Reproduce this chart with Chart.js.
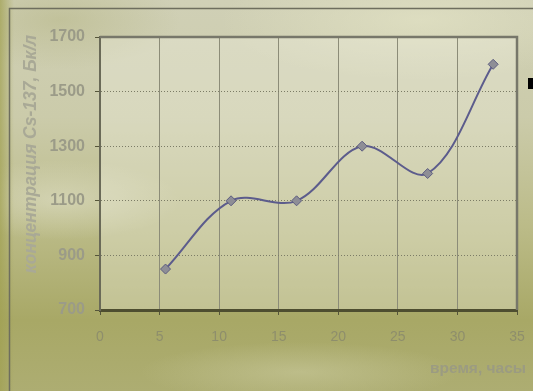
<!DOCTYPE html>
<html>
<head>
<meta charset="utf-8">
<script src="https://cdn.jsdelivr.net/npm/chart.js@4.4.1/dist/chart.umd.min.js"></script>
<style>
html, body { margin:0; padding:0; }
body {
  width:533px; height:391px; overflow:hidden;
  background:
    linear-gradient(90deg, rgba(160,160,80,0.7) 0px, rgba(160,160,80,0) 14px),
    radial-gradient(ellipse 120px 40px at 60px 200px, rgba(230,230,210,0.5), rgba(230,230,210,0)),
    radial-gradient(ellipse 160px 30px at 300px 372px, rgba(210,210,170,0.45), rgba(210,210,170,0)),
    radial-gradient(ellipse 200px 60px at 420px 20px, rgba(230,230,200,0.6), rgba(230,230,200,0)),
    radial-gradient(ellipse 120px 50px at 60px 20px, rgba(180,180,130,0.5), rgba(180,180,130,0)),
    linear-gradient(180deg, #d0d0b6 0%, #cbcbaa 30%, #bbbb88 58%, #a8a866 82%, #adad72 100%);
}
#wrap { position:absolute; left:0; top:0; width:533px; height:391px; }
</style>
</head>
<body>
<div id="wrap"><canvas id="c" width="533" height="391"></canvas></div>
<script>
// data
var hours = [5.5, 11, 16.5, 22, 27.5, 33];
var concentration = [850, 1100, 1100, 1300, 1200, 1600];
var xTicks = [0, 5, 10, 15, 20, 25, 30, 35];
var yTicks = [700, 900, 1100, 1300, 1500, 1700];
var xTitle = 'время, часы';
var yTitle = 'концентрация Cs-137, Бк/л';

var pts = [];
for (var i = 0; i < hours.length; i++) pts.push({x: hours[i], y: concentration[i]});

// plot area fill, frame, axis titles
var decor = {
  id: 'decor',
  beforeDraw: function(chart) {
    var ctx = chart.ctx, a = chart.chartArea;
    ctx.save();
    ctx.fillStyle = 'rgba(240,240,225,0.35)';
    ctx.fillRect(a.left, a.top, a.right - a.left, a.bottom - a.top);
    // outer frame
    ctx.strokeStyle = '#6e6e5e';
    ctx.lineWidth = 1.5;
    ctx.beginPath();
    ctx.moveTo(533, 8.5); ctx.lineTo(9.5, 8.5); ctx.lineTo(9.5, 391);
    ctx.stroke();
    ctx.restore();
  },
  afterDatasetsDraw: function(chart) {
    var ctx = chart.ctx, a = chart.chartArea;
    ctx.save();
    ctx.strokeStyle = '#77776a';
    ctx.lineWidth = 2.5;
    ctx.beginPath();
    ctx.moveTo(a.left, a.top); ctx.lineTo(a.right, a.top); ctx.lineTo(a.right, a.bottom);
    ctx.stroke();
    // legend key, cut off at right edge
    ctx.fillStyle = '#000';
    ctx.fillRect(528, 78, 6, 11);
    // titles
    ctx.fillStyle = '#9b9b82';
    ctx.font = 'bold 15.5px "Liberation Sans", Arial, sans-serif';
    ctx.textAlign = 'right';
    ctx.textBaseline = 'middle';
    ctx.fillText(xTitle, 526, 369);
    ctx.translate(31, 154);
    ctx.rotate(-Math.PI / 2);
    ctx.textAlign = 'center';
    ctx.font = 'italic bold 17.5px "Liberation Sans", Arial, sans-serif';
    ctx.fillStyle = '#a9a996';
    ctx.fillText(yTitle, 0, 0);
    ctx.restore();
  }
};

new Chart(document.getElementById('c'), {
  type: 'scatter',
  data: {
    datasets: [{
      data: pts,
      showLine: true,
      borderColor: '#5c5c8c',
      borderWidth: 2,
      tension: 0.35,
      pointStyle: 'rectRot',
      pointRadius: 5,
      pointBackgroundColor: '#8e8e96',
      pointBorderColor: '#5c5c80',
      pointBorderWidth: 1
    }]
  },
  options: {
    responsive: false,
    animation: false,
    events: [],
    layout: { padding: { top: 37, right: 16, left: 0, bottom: 0 } },
    plugins: { legend: { display: false }, tooltip: { enabled: false } },
    scales: {
      x: {
        type: 'linear',
        min: xTicks[0], max: xTicks[xTicks.length - 1],
        afterBuildTicks: function(s) { s.ticks = xTicks.map(function(v) { return {value: v}; }); },
        afterFit: function(s) { s.height = 81; s.paddingLeft = 0; s.paddingRight = 0; },
        grid: { color: '#8c8c78', lineWidth: 1, tickLength: 5, tickColor: '#55553a' },
        border: { color: '#4e4e30', width: 3 },
        ticks: {
          padding: 14,
          color: '#8e8e6c',
          font: { family: '"Liberation Sans", Arial, sans-serif', size: 14 }
        }
      },
      y: {
        type: 'linear',
        min: yTicks[0], max: yTicks[yTicks.length - 1],
        afterBuildTicks: function(s) { s.ticks = yTicks.map(function(v) { return {value: v}; }); },
        afterFit: function(s) { s.width = 100; s.paddingTop = 0; s.paddingBottom = 0; },
        grid: { color: '#7c7c66', lineWidth: 1, tickLength: 5, tickColor: '#55553a', tickBorderDash: [] },
        border: { color: '#6a6a58', width: 2, dash: [1, 2] },
        ticks: {
          padding: 10,
          color: '#9b9b88',
          callback: function(v) { return String(v); },
          font: { family: '"Liberation Sans", Arial, sans-serif', size: 16, weight: 'bold' }
        }
      }
    }
  },
  plugins: [decor]
});
</script>
</body>
</html>
